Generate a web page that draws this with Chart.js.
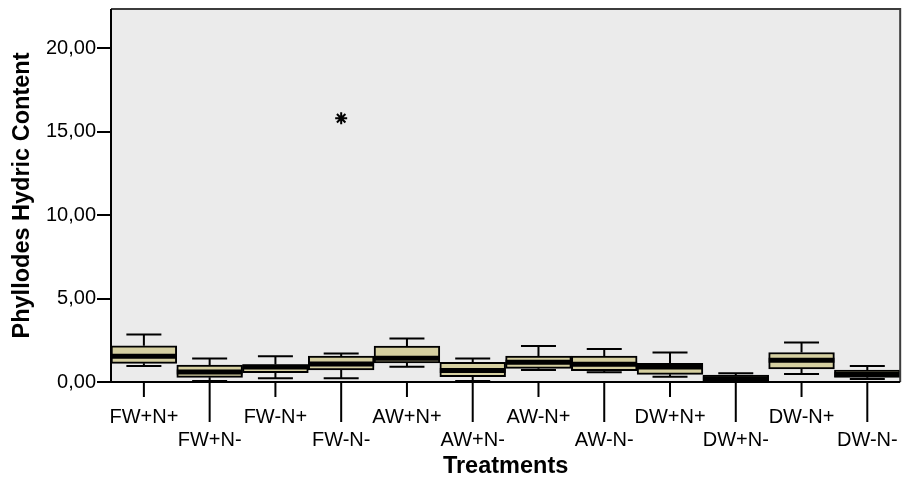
<!DOCTYPE html>
<html>
<head>
<meta charset="utf-8">
<script src="https://cdn.jsdelivr.net/npm/chart.js@4/dist/chart.umd.min.js"></script>
<style>
  html, body { margin: 0; padding: 0; background: #fff; }
  #wrap { width: 914px; height: 481px; position: relative; }
</style>
</head>
<body>
<div id="wrap"><canvas id="box"></canvas></div>
<script>
var categories = ['FW+N+', 'FW+N-', 'FW-N+', 'FW-N-', 'AW+N+', 'AW+N-', 'AW-N+', 'AW-N-', 'DW+N+', 'DW+N-', 'DW-N+', 'DW-N-'];
var whiskerHigh = [2.84, 1.41, 1.55, 1.71, 2.61, 1.41, 2.15, 1.97, 1.77, 0.52, 2.37, 0.96];
var quart3      = [2.17, 1.02, 1.05, 1.55, 2.15, 1.18, 1.55, 1.55, 1.12, 0.42, 1.77, 0.72];
var medians     = [1.55, 0.60, 0.90, 1.08, 1.43, 0.69, 1.19, 1.06, 0.90, 0.20, 1.31, 0.45];
var quart1      = [1.12, 0.28, 0.56, 0.72, 1.15, 0.32, 0.82, 0.68, 0.46, 0.00, 0.78, 0.28];
var whiskerLow  = [0.96, 0.06, 0.22, 0.22, 0.91, 0.06, 0.72, 0.58, 0.32, 0.00, 0.48, 0.18];
var extremes    = [null, null, null, 15.80, null, null, null, null, null, null, null, null];
var yTicks      = [0, 5, 10, 15, 20];

var boxParts = {
  id: 'boxParts',
  beforeDraw: function(chart) {
    var a = chart.chartArea, ctx = chart.ctx;
    ctx.save();
    ctx.fillStyle = '#ebebeb';
    ctx.fillRect(a.left, a.top, a.right - a.left, a.bottom - a.top);
    ctx.restore();
  },
  afterDatasetsDraw: function(chart) {
    var ctx = chart.ctx, x = chart.scales.x, y = chart.scales.y;
    var bars = chart.getDatasetMeta(0).data;
    ctx.save();
    ctx.strokeStyle = '#000';
    categories.forEach(function(c, i) {
      var cx = x.getPixelForValue(i);
      var half = bars[i].width / 2;
      var cap = 17.5;
      ctx.lineWidth = 2;
      ctx.beginPath();
      ctx.moveTo(cx, y.getPixelForValue(quart3[i]));
      ctx.lineTo(cx, y.getPixelForValue(whiskerHigh[i]));
      ctx.moveTo(cx - cap, y.getPixelForValue(whiskerHigh[i]));
      ctx.lineTo(cx + cap, y.getPixelForValue(whiskerHigh[i]));
      ctx.moveTo(cx, y.getPixelForValue(quart1[i]));
      ctx.lineTo(cx, y.getPixelForValue(whiskerLow[i]));
      ctx.moveTo(cx - cap, y.getPixelForValue(whiskerLow[i]));
      ctx.lineTo(cx + cap, y.getPixelForValue(whiskerLow[i]));
      ctx.stroke();
      ctx.lineWidth = 5;
      ctx.beginPath();
      ctx.moveTo(cx - half, y.getPixelForValue(medians[i]));
      ctx.lineTo(cx + half, y.getPixelForValue(medians[i]));
      ctx.stroke();
    });
    ctx.restore();
  },
  afterDraw: function(chart) {
    var a = chart.chartArea, ctx = chart.ctx, x = chart.scales.x;
    ctx.save();
    // frame
    ctx.strokeStyle = '#3c3c3c';
    ctx.lineWidth = 2;
    ctx.beginPath();
    ctx.moveTo(a.left, a.top); ctx.lineTo(a.right, a.top); ctx.lineTo(a.right, a.bottom);
    ctx.stroke();
    ctx.strokeStyle = '#000';
    ctx.beginPath();
    ctx.moveTo(a.left, a.top); ctx.lineTo(a.left, a.bottom); ctx.lineTo(a.right, a.bottom);
    ctx.stroke();
    // alternating tick marks
    ctx.lineWidth = 2;
    ctx.beginPath();
    categories.forEach(function(c, i) {
      var cx = x.getPixelForValue(i);
      ctx.moveTo(cx, a.bottom);
      ctx.lineTo(cx, a.bottom + (i % 2 ? 40 : 15));
    });
    ctx.stroke();
    ctx.restore();
  }
};

new Chart(document.getElementById('box'), {
  type: 'bar',
  data: {
    labels: categories,
    datasets: [
      {
        label: 'box',
        data: categories.map(function(c, i) { return [quart1[i], quart3[i]]; }),
        backgroundColor: '#d5cfa0',
        borderColor: '#000',
        borderWidth: 2,
        borderSkipped: false,
        barPercentage: 1,
        categoryPercentage: 1
      },
      {
        type: 'line',
        label: 'extreme',
        data: extremes,
        showLine: false,
        pointStyle: 'star',
        pointRadius: 6,
        pointBorderWidth: 2,
        pointBorderColor: '#000',
        pointBackgroundColor: '#000'
      }
    ]
  },
  plugins: [boxParts],
  options: {
    responsive: true,
    maintainAspectRatio: false,
    animation: false,
    layout: { padding: { top: 8, right: 2, left: 0, bottom: 0 } },
    plugins: { legend: { display: false }, tooltip: { enabled: false } },
    scales: {
      x: {
        grid: { display: false },
        border: { display: false },
        afterFit: function(s) { s.height = 99; },
        ticks: {
          autoSkip: false, maxRotation: 0, padding: 16, color: '#000',
          font: { family: 'Liberation Sans, Arial', size: 20, lineHeight: 1.15 },
          callback: function(v, i) { return i % 2 ? ['', categories[i]] : categories[i]; }
        },
        title: {
          display: true, text: 'Treatments', color: '#000',
          font: { family: 'Liberation Sans, Arial', size: 23.5, weight: 'bold', lineHeight: 1.2 },
          padding: { top: 0, bottom: 0 }
        }
      },
      y: {
        min: 0, max: 22.35,
        grid: { drawOnChartArea: false, drawTicks: true, tickLength: 14, color: '#000', lineWidth: 2 },
        border: { display: false },
        afterFit: function(s) { s.width = 111; },
        afterBuildTicks: function(s) { s.ticks = yTicks.map(function(v) { return { value: v }; }); },
        ticks: {
          padding: 1, color: '#000',
          font: { family: 'Liberation Sans, Arial', size: 20, lineHeight: 0.8 },
          callback: function(v) { return v.toFixed(2).replace('.', ','); }
        },
        title: {
          display: true, text: 'Phyllodes Hydric Content', color: '#000',
          font: { family: 'Liberation Sans, Arial', size: 23.5, weight: 'bold', lineHeight: 1.2 },
          padding: { top: 8, bottom: 0 }
        }
      }
    }
  }
});
</script>
</body>
</html>
